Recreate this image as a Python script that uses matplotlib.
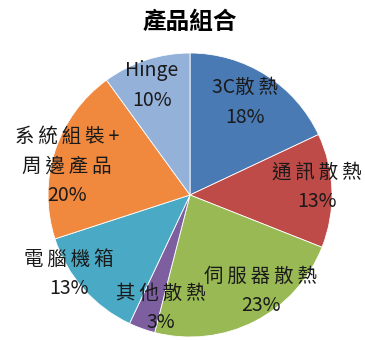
import matplotlib
matplotlib.use("Agg")
import matplotlib.pyplot as plt

plt.rcParams['font.family'] = ['Noto Sans CJK TC', 'DejaVu Sans']

# product mix, clockwise from 12 o'clock
names = ['3C散熱', '通訊散熱', '伺服器散熱', '其他散熱', '電腦機箱', '系統組裝+\n周邊產品', 'Hinge']
shares = [18, 13, 23, 3, 13, 20, 10]
colors = ['#4a7ab4', '#be4b48', '#98b954', '#7d5fa0', '#4aa9c4', '#f0883e', '#94b1d9']

# label centres in pie-radius units
label_xy = [(0.39, 0.65), (0.894, 0.056), (0.50, -0.676), (-0.204, -0.796),
            (-0.852, -0.556), (-0.866, 0.204), (-0.27, 0.77)]


def spaced(s):
    # loose tracking between CJK glyphs (thin space falls back to DejaVu)
    out = ''
    for a, b in zip(s, s[1:] + ' '):
        out += a
        if ord(a) > 0x2e80 and (ord(b) > 0x2e80 or b == '+'):
            out += '\u2009'
    return out


fig = plt.figure(figsize=(3.65, 3.40), dpi=100)
ax = fig.add_axes([48 / 365, 3 / 340, 284 / 365, 284 / 340])

ax.pie(shares, colors=colors, startangle=90, counterclock=False, radius=1,
       wedgeprops=dict(edgecolor='white', linewidth=0.6))

for name, val, (x, y) in zip(names, shares, label_xy):
    txt = '\n'.join(spaced(line) for line in name.split('\n'))
    ax.text(x, y, f'{txt}\n{val}%', ha='center', va='center', fontsize=14,
            linespacing=1.55, color='#1a1a1a', clip_on=False)

ax.set_xlim(-1, 1)
ax.set_ylim(-1, 1)
ax.set_aspect('equal')
ax.axis('off')

fig.text(190 / 365, 1 - 22 / 340, '產品組合', ha='center', va='center',
         fontsize=17, fontweight='bold', color='black')

fig.savefig('out.png', dpi=100, facecolor='white')
